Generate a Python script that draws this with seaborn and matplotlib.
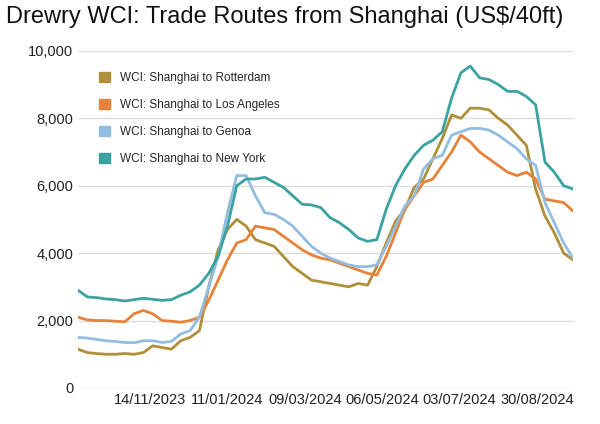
import matplotlib
matplotlib.use("Agg")
import matplotlib.pyplot as plt
import matplotlib.dates as mdates
import matplotlib.ticker as mticker
from matplotlib.patches import Patch
import pandas as pd
import seaborn as sns

sns.set_theme(style="white")
plt.rcParams['font.family'] = ['Liberation Sans', 'DejaVu Sans']

dates = pd.date_range("2023-09-21", periods=54, freq="7D")
rotterdam = [1150, 1050, 1020, 1000, 1000, 1020, 1000, 1050, 1250, 1200, 1150, 1400, 1500, 1700,
             3000, 4100, 4700, 5000, 4800, 4400, 4300, 4200, 3900, 3600, 3400, 3200, 3150, 3100,
             3050, 3000, 3100, 3050, 3600, 4300, 4950, 5300, 5950, 6200, 6800, 7400, 8100, 8000,
             8300, 8300, 8250, 8000, 7800, 7500, 7200, 5900, 5100, 4600, 4000, 3800]
los_angeles = [2100, 2020, 2000, 2000, 1980, 1960, 2200, 2300, 2200, 2000, 1980, 1950, 2000, 2100,
               2600, 3200, 3800, 4300, 4400, 4800, 4750, 4700, 4500, 4300, 4100, 3950, 3850, 3800,
               3700, 3600, 3500, 3400, 3350, 3900, 4600, 5300, 5700, 6100, 6200, 6600, 7000, 7500,
               7300, 7000, 6800, 6600, 6400, 6300, 6400, 6200, 5600, 5550, 5500, 5250]
genoa = [1500, 1480, 1440, 1400, 1380, 1350, 1340, 1400, 1400, 1350, 1380, 1600, 1700, 2100,
         3000, 3900, 5200, 6300, 6300, 5700, 5200, 5150, 5000, 4800, 4500, 4200, 4000, 3850,
         3750, 3650, 3600, 3600, 3650, 4200, 4800, 5400, 5700, 6500, 6800, 6900, 7500, 7600,
         7700, 7700, 7650, 7500, 7300, 7100, 6800, 6600, 5500, 4900, 4300, 3850]
new_york = [2900, 2700, 2680, 2640, 2620, 2580, 2620, 2660, 2630, 2600, 2620, 2750, 2850, 3050,
            3400, 3900, 4800, 6000, 6200, 6200, 6250, 6100, 5950, 5700, 5450, 5430, 5350, 5050,
            4900, 4700, 4450, 4350, 4400, 5300, 6000, 6500, 6900, 7200, 7350, 7600, 8600, 9350,
            9550, 9200, 9150, 9000, 8800, 8800, 8650, 8400, 6700, 6400, 6000, 5900]
tick_dates = ["2023-11-14", "2024-01-11", "2024-03-09", "2024-05-06", "2024-07-03", "2024-08-30"]

names = ["WCI: Shanghai to Rotterdam", "WCI: Shanghai to Los Angeles",
         "WCI: Shanghai to Genoa", "WCI: Shanghai to New York"]
colors = ["#B08F3A", "#E8823A", "#93BDE0", "#3BA2A2"]

df = pd.DataFrame({"date": dates, names[0]: rotterdam, names[1]: los_angeles,
                   names[2]: genoa, names[3]: new_york})
long = df.melt(id_vars="date", var_name="route", value_name="rate")

fig, ax = plt.subplots(figsize=(6, 4.24), dpi=100)
sns.lineplot(data=long, x="date", y="rate", hue="route", palette=colors,
             linewidth=2, ax=ax, legend=False)

ax.set_xlim(dates[0], dates[-1])
ax.set_ylim(0, 10000)
ax.set_yticks(range(0, 10001, 2000))
ax.yaxis.set_major_formatter(mticker.FuncFormatter(lambda v, p: f"{int(v):,}"))
ax.set_xticks(pd.to_datetime(tick_dates))
ax.xaxis.set_major_formatter(mdates.DateFormatter("%d/%m/%Y"))
ax.tick_params(labelsize=10.5, colors="#222222", length=0)
ax.grid(axis="y", color="#dddddd", linewidth=1)
for s in ax.spines.values():
    s.set_visible(False)
ax.set_xlabel("")
ax.set_ylabel("")

handles = [Patch(color=c, label=n) for c, n in zip(colors, names)]
ax.legend(handles=handles, loc="upper left", bbox_to_anchor=(0.02, 0.97), frameon=False,
          fontsize=8.5, handlelength=1, handleheight=1, labelspacing=1.25)

fig.text(0.01, 0.945, "Drewry WCI: Trade Routes from Shanghai (US$/40ft)", fontsize=17,
         color="#111111")
fig.subplots_adjust(left=0.13, right=0.955, top=0.88, bottom=0.085)
fig.savefig("out.png")
